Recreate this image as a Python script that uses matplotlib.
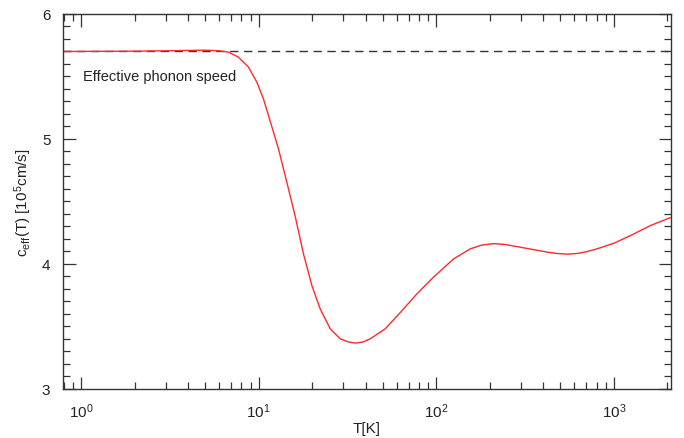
import numpy as np
import matplotlib
matplotlib.use("Agg")
import matplotlib.pyplot as plt
from matplotlib.ticker import LogLocator, MultipleLocator, NullFormatter

plt.rcParams["font.family"] = ["Liberation Sans", "DejaVu Sans"]
plt.rcParams["mathtext.fontset"] = "custom"
plt.rcParams["mathtext.rm"] = "Liberation Sans"
plt.rcParams["mathtext.it"] = "Liberation Sans"

# temperature [K] and effective phonon speed [1e5 cm/s]
temperature = [0.79, 1, 2, 3, 4, 5, 6, 6.76, 7.69, 8.76, 9.77, 10.64, 11.36,
               12.12, 12.93, 13.8, 15.04, 16.06, 17.88, 19.94, 22.2, 25.3,
               28.8, 32, 35, 38.5, 42.5, 51.6, 62.7, 77.8, 96.6, 125.3, 155.4,
               180, 210, 245, 285, 350, 421, 480, 545, 621, 700, 804, 1000,
               1240, 1606, 2080]
c_eff = [5.70, 5.70, 5.702, 5.705, 5.708, 5.71, 5.705, 5.694, 5.654, 5.574,
         5.454, 5.32, 5.186, 5.054, 4.92, 4.76, 4.546, 4.38, 4.08, 3.826,
         3.64, 3.48, 3.40, 3.375, 3.366, 3.374, 3.40, 3.48, 3.61, 3.76, 3.894,
         4.04, 4.12, 4.150, 4.162, 4.155, 4.138, 4.115, 4.094, 4.083, 4.078,
         4.083, 4.097, 4.12, 4.165, 4.226, 4.306, 4.37]
c_limit = 5.70

fig = plt.figure(figsize=(6.84, 4.39), dpi=100)
ax = fig.add_axes([0.092, 0.112, 0.889, 0.854])

ax.axhline(c_limit, color="#333333", lw=1.0, ls=(0, (6, 4)))
ax.plot(temperature, c_eff, color="#ff2a2a", lw=1.0)

ax.set_xscale("log")
ax.set_xlim(0.79, 2100)
ax.set_ylim(3, 6)
ax.xaxis.set_major_locator(LogLocator(base=10))
ax.xaxis.set_minor_locator(LogLocator(base=10, subs=np.arange(2, 10)))
ax.xaxis.set_minor_formatter(NullFormatter())
ax.yaxis.set_major_locator(MultipleLocator(1))
ax.yaxis.set_minor_locator(MultipleLocator(0.1))

ax.tick_params(which="both", direction="in", top=True, right=True,
               color="#333333", width=0.9, labelsize=11, labelcolor="#222222")
ax.tick_params(which="major", length=9, pad=9)
ax.tick_params(which="minor", length=5)
for s in ax.spines.values():
    s.set_color("#333333")
    s.set_linewidth(1.0)

ax.text(1.03, 5.50, "Effective phonon speed", fontsize=10.5, color="#222222",
        va="center", ha="left")
ax.set_xlabel("T[K]", fontsize=11, color="#222222", labelpad=1)
ax.set_ylabel(r"$\mathregular{c_{eff}(T)\ [10^5cm/s]}$", fontsize=11,
              color="#222222", labelpad=6)

fig.savefig("out.png", dpi=100, facecolor="white")
